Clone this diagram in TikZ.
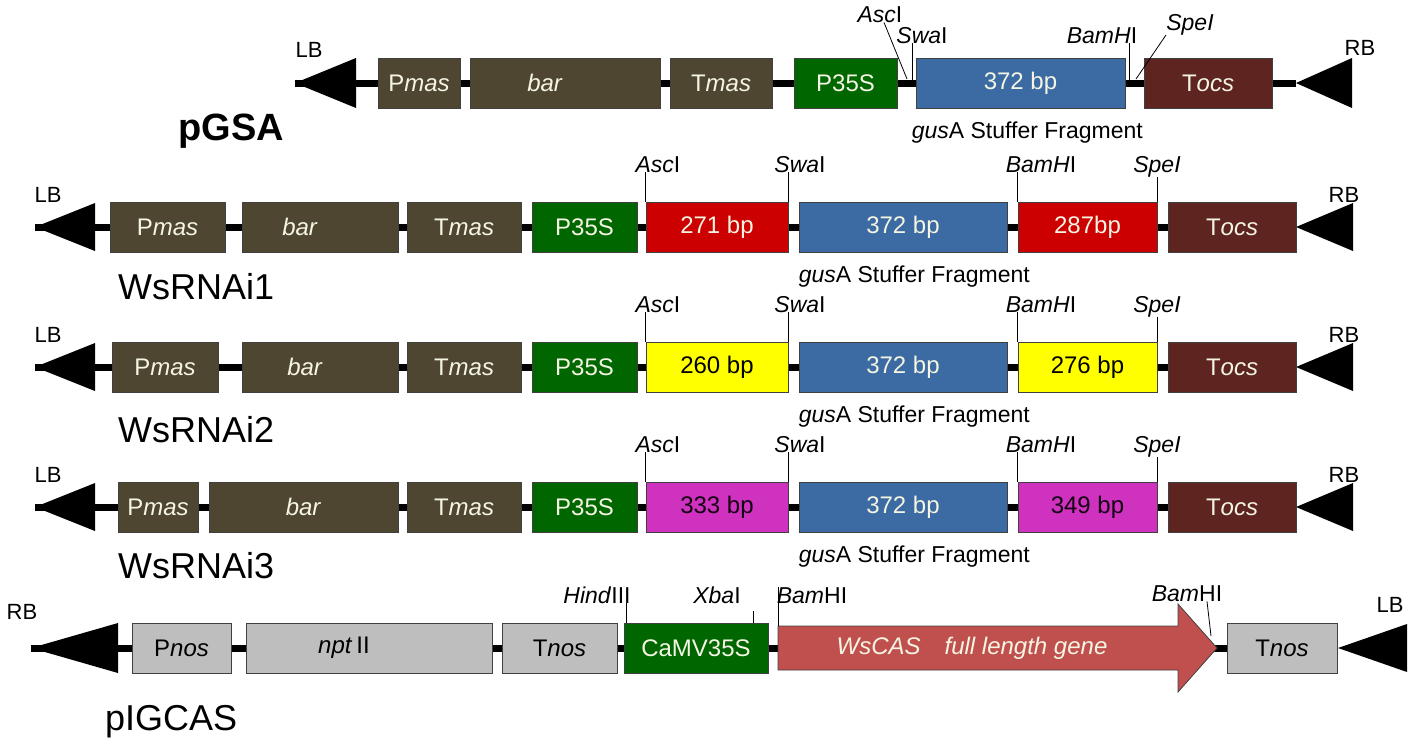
\documentclass[tikz,border=0pt]{standalone}
\usepackage{fontspec}
\setmainfont{Liberation Sans}
\usepackage{xcolor}
\usepackage{tikz}
\usetikzlibrary{positioning}

\definecolor{masbrown}{RGB}{78,70,48}
\definecolor{promgreen}{RGB}{0,102,0}
\definecolor{stufblue}{RGB}{60,106,162}
\definecolor{ocsbrown}{RGB}{94,36,32}
\definecolor{hpred}{RGB}{204,0,0}
\definecolor{hpyellow}{RGB}{255,255,0}
\definecolor{hpmagenta}{RGB}{206,50,190}
\definecolor{nosgrey}{RGB}{190,190,190}
\definecolor{casred}{RGB}{192,80,77}
\definecolor{cream}{RGB}{245,245,228}

\begin{document}
\begin{tikzpicture}[x=1pt, y=-1pt, every node/.style={inner sep=0pt}, gene/.style={draw=black!75, line width=0.8pt, minimum height=50pt, font=\fontsize{24}{26}\selectfont, text=cream}, site/.style={font=\fontsize{23}{25}\selectfont, anchor=base}, note/.style={font=\fontsize{23}{25}\selectfont, anchor=north west}, cut/.style={line width=0.8pt}, backbone/.style={line width=7pt}, construct/.style={font=\fontsize{36}{40}\selectfont, anchor=base west}, border/.style={font=\fontsize{22}{24}\selectfont}]
\useasboundingbox (0,0) rectangle (1421,740);

% pGSA
\coordinate (lbA) at (295,83);
\coordinate (rbA) at (1296,83);
\draw[backbone] (lbA) -- (rbA);
\fill (lbA) -- ++(61,-25) -- ++(0,50) -- cycle;
\fill (rbA) -- ++(56,-25) -- ++(0,50) -- cycle;
\node[border] (lbAt) at (309,50) {LB};
\node[border] (rbAt) at (1360,48) {RB};
\node[gene, fill=masbrown, minimum width=82pt] (pmasA) at (419,83) {P\textit{mas}};
\node[gene, fill=masbrown, minimum width=190pt] (barA) at (565,83) {\textit{bar}\hspace*{40pt}};
\node[gene, fill=masbrown, minimum width=102pt] (tmasA) at (721,83) {T\textit{mas}};
\node[gene, fill=promgreen, minimum width=103pt] (psA) at (845.5,83) {P35S};
\node[gene, fill=stufblue, minimum width=209pt] (stufA) at (1020.5,83) {372 bp};
\node[gene, fill=ocsbrown, minimum width=128pt] (tocsA) at (1208,83) {T\textit{ocs}};
\node[note] (gusA) at ([xshift=-4pt, yshift=-13pt]stufA.south west) {\textit{gus}A Stuffer Fragment};
\node[site] (ascA) at (880,22) {\textit{Asc}I};
\node[site] (swaA) at (922,43) {\textit{Swa}I};
\node[site] (bamA) at (1102,43) {\textit{BamH}I};
\node[site] (speA) at (1190,30) {\textit{SpeI}};
\coordinate (ascAx) at (907,79);
\coordinate (swaAx) at (912,80);
\coordinate (bamAx) at (1129,80);
\coordinate (speAx) at (1136,79);
\draw[cut] ([xshift=4pt]ascA.south) -- (ascAx);
\draw[cut] (swaAx |- swaA.south) -- (swaAx);
\draw[cut] (bamAx |- bamA.south) -- (bamAx);
\draw[cut] ([xshift=-24pt]speA.south) -- (speAx);
\node[construct, anchor=base east, font=\fontsize{38}{42}\selectfont\bfseries] (pgsa) at (284,140) {pGSA};

% WsRNAi1
\coordinate (lbB) at (35,227);
\coordinate (rbB) at (1296,227);
\draw[backbone] (lbB) -- (rbB);
\fill (lbB) -- ++(60,-24) -- ++(0,48) -- cycle;
\fill (rbB) -- ++(57,-24) -- ++(0,48) -- cycle;
\node[border] (lbBt) at (48,195) {LB};
\node[border] (rbBt) at (1344,195) {RB};
\node[gene, fill=masbrown, minimum width=115pt] (pmasB) at (167.5,227) {P\textit{mas}};
\node[gene, fill=masbrown, minimum width=156pt] (barB) at (320,227) {\textit{bar}\hspace*{40pt}};
\node[gene, fill=masbrown, minimum width=114pt] (tmasB) at (464,227) {T\textit{mas}};
\node[gene, fill=promgreen, minimum width=105pt] (psB) at (584.5,227) {P35S};
\node[gene, fill=hpred, minimum width=142pt] (hpB1) at (717,227) {271 bp};
\node[gene, fill=stufblue, minimum width=208pt] (stufB) at (903,227) {372 bp};
\node[gene, fill=hpred, minimum width=139pt] (hpB2) at (1087.5,227) {287bp};
\node[gene, fill=ocsbrown, minimum width=128pt] (tocsB) at (1232,227) {T\textit{ocs}};
\node[note] (gusB) at ([yshift=-13pt]stufB.south west) {\textit{gus}A Stuffer Fragment};
\node[site] (ascB) at (658,172) {\textit{Asc}I};
\node[site] (swaB) at (800,172) {\textit{Swa}I};
\node[site] (bamB) at (1041,172) {\textit{BamH}I};
\node[site] (speB) at (1157,172) {\textit{SpeI}};
\draw[cut] (hpB1.north west |- ascB.south) -- (hpB1.north west);
\draw[cut] (hpB1.north east |- swaB.south) -- (hpB1.north east);
\draw[cut] (hpB2.north west |- bamB.south) -- (hpB2.north west);
\draw[cut] (hpB2.north east |- speB.south) -- (hpB2.north east);
\node[construct] (wsB) at (118,299) {WsRNAi1};

% WsRNAi2
\coordinate (lbC) at (35,367);
\coordinate (rbC) at (1296,367);
\draw[backbone] (lbC) -- (rbC);
\fill (lbC) -- ++(60,-24) -- ++(0,48) -- cycle;
\fill (rbC) -- ++(57,-24) -- ++(0,48) -- cycle;
\node[border] (lbCt) at (48,335) {LB};
\node[border] (rbCt) at (1344,335) {RB};
\node[gene, fill=masbrown, minimum width=106pt] (pmasC) at (165,367) {P\textit{mas}};
\node[gene, fill=masbrown, minimum width=156pt] (barC) at (320,367) {\textit{bar}\hspace*{30pt}};
\node[gene, fill=masbrown, minimum width=114pt] (tmasC) at (464,367) {T\textit{mas}};
\node[gene, fill=promgreen, minimum width=105pt] (psC) at (584.5,367) {P35S};
\node[gene, fill=hpyellow, minimum width=142pt, text=black] (hpC1) at (717,367) {260 bp};
\node[gene, fill=stufblue, minimum width=208pt] (stufC) at (903,367) {372 bp};
\node[gene, fill=hpyellow, minimum width=139pt, text=black] (hpC2) at (1087.5,367) {276 bp};
\node[gene, fill=ocsbrown, minimum width=128pt] (tocsC) at (1232,367) {T\textit{ocs}};
\node[note] (gusC) at ([yshift=-13pt]stufC.south west) {\textit{gus}A Stuffer Fragment};
\node[site] (ascC) at (658,312) {\textit{Asc}I};
\node[site] (swaC) at (800,312) {\textit{Swa}I};
\node[site] (bamC) at (1041,312) {\textit{BamH}I};
\node[site] (speC) at (1157,312) {\textit{SpeI}};
\draw[cut] (hpC1.north west |- ascC.south) -- (hpC1.north west);
\draw[cut] (hpC1.north east |- swaC.south) -- (hpC1.north east);
\draw[cut] (hpC2.north west |- bamC.south) -- (hpC2.north west);
\draw[cut] (hpC2.north east |- speC.south) -- (hpC2.north east);
\node[construct] (wsC) at (118,442) {WsRNAi2};

% WsRNAi3
\coordinate (lbD) at (35,507);
\coordinate (rbD) at (1296,507);
\draw[backbone] (lbD) -- (rbD);
\fill (lbD) -- ++(60,-24) -- ++(0,48) -- cycle;
\fill (rbD) -- ++(57,-24) -- ++(0,48) -- cycle;
\node[border] (lbDt) at (48,475) {LB};
\node[border] (rbDt) at (1344,475) {RB};
\node[gene, fill=masbrown, minimum width=80pt] (pmasD) at (158,507) {P\textit{mas}};
\node[gene, fill=masbrown, minimum width=189pt] (barD) at (303.5,507) {\textit{bar}};
\node[gene, fill=masbrown, minimum width=114pt] (tmasD) at (464,507) {T\textit{mas}};
\node[gene, fill=promgreen, minimum width=105pt] (psD) at (584.5,507) {P35S};
\node[gene, fill=hpmagenta, minimum width=142pt, text=black!85!violet] (hpD1) at (717,507) {333 bp};
\node[gene, fill=stufblue, minimum width=208pt] (stufD) at (903,507) {372 bp};
\node[gene, fill=hpmagenta, minimum width=139pt, text=black!85!violet] (hpD2) at (1087.5,507) {349 bp};
\node[gene, fill=ocsbrown, minimum width=128pt] (tocsD) at (1232,507) {T\textit{ocs}};
\node[note] (gusD) at ([yshift=-13pt]stufD.south west) {\textit{gus}A Stuffer Fragment};
\node[site] (ascD) at (658,452) {\textit{Asc}I};
\node[site] (swaD) at (800,452) {\textit{Swa}I};
\node[site] (bamD) at (1041,452) {\textit{BamH}I};
\node[site] (speD) at (1157,452) {\textit{SpeI}};
\draw[cut] (hpD1.north west |- ascD.south) -- (hpD1.north west);
\draw[cut] (hpD1.north east |- swaD.south) -- (hpD1.north east);
\draw[cut] (hpD2.north west |- bamD.south) -- (hpD2.north west);
\draw[cut] (hpD2.north east |- speD.south) -- (hpD2.north east);
\node[construct] (wsD) at (118,578) {WsRNAi3};

% pIGCAS
\coordinate (rbE) at (31,648);
\coordinate (lbE) at (1338,648);
\draw[backbone] (rbE) -- (lbE);
\fill (rbE) -- ++(87,-25) -- ++(0,50) -- cycle;
\fill (lbE) -- ++(69,-24) -- ++(0,48) -- cycle;
\node[border] (rbEt) at (22,612) {RB};
\node[border] (lbEt) at (1390,605) {LB};
\node[gene, fill=nosgrey, minimum width=99pt, text=black] (pnosE) at (181.5,648) {P\textit{nos}};
\node[gene, fill=nosgrey, minimum width=246pt, text=black] (nptE) at (369,648) {\textit{npt}\,II\hspace*{50pt}};
\node[gene, fill=nosgrey, minimum width=115pt, text=black] (tnosE) at (559.5,648) {T\textit{nos}};
\node[gene, fill=promgreen, minimum width=144pt] (cmvE) at (696,648) {CaMV35S};
\coordinate (casT) at (778,626);
\fill[casred, draw=black!75, line width=0.8pt] (casT) -- (1178,626) -- (1178,604) -- (1217,648) -- (1178,692) -- (1178,670) -- (778,670) -- cycle;
\node[font=\fontsize{24}{26}\selectfont\itshape, text=cream] (casE) at (972,648) {WsCAS\quad full length gene};
\node[gene, fill=nosgrey, minimum width=110pt, text=black] (tnosE2) at (1282,648) {T\textit{nos}};
\node[site] (hindE) at (597,603) {\textit{Hind}III};
\node[site] (xbaE) at (717,603) {\textit{Xba}I};
\node[site] (bamE1) at (812,603) {\textit{Bam}HI};
\node[site] (bamE2) at (1187,601) {\textit{Bam}HI};
\coordinate (bamE2x) at (1211,636);
\draw[cut] ([xshift=3pt]hindE.south -| cmvE.north west) -- ([xshift=3pt]cmvE.north west);
\draw[cut] ([xshift=-15pt]cmvE.north east) -- ++(0,-12);
\draw[cut] (casT) -- (casT |- bamE1.north);
\draw[cut] ([xshift=20pt]bamE2.south) -- (bamE2x);
\node[construct] (pigcas) at (105,730) {pIGCAS};
\end{tikzpicture}
\end{document}
